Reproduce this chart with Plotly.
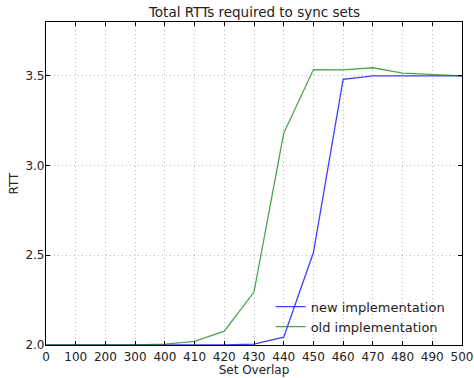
import plotly.graph_objects as go

overlap = ['0', '100', '200', '300', '400', '410', '420', '430', '440',
           '450', '460', '470', '480', '490', '500']
new_impl = [2.0, 2.0, 2.0, 2.0, 2.0, 2.0, 2.0, 2.005, 2.044, 2.515,
            3.48, 3.5, 3.5, 3.5, 3.5]
old_impl = [2.0, 2.0, 2.0, 2.0, 2.005, 2.02, 2.077, 2.295, 3.18, 3.535,
            3.533, 3.545, 3.515, 3.508, 3.5]

fig = go.Figure()
fig.add_trace(go.Scatter(x=overlap, y=new_impl, mode='lines',
                         name='new implementation',
                         line={'color': 'rgba(0,0,255,0.75)', 'width': 1.3}))
fig.add_trace(go.Scatter(x=overlap, y=old_impl, mode='lines',
                         name='old implementation',
                         line={'color': 'rgba(0,128,0,0.7)', 'width': 1.3}))

axis_style = dict(showline=True, linecolor='black', linewidth=1.2, mirror='ticks',
                  ticks='inside', ticklen=4, tickcolor='black', automargin=False,
                  showgrid=True, gridcolor='#b8b8b8', griddash='1px,3px', gridwidth=1,
                  zeroline=False, tickfont=dict(size=12, color='#222'))

fig.update_xaxes(type='category', range=[0, 14], title_text='Set Overlap',
                 title_standoff=2, title_font=dict(size=12, color='#222'), **axis_style)
fig.update_yaxes(range=[2.0, 3.8], tickvals=[2.0, 2.5, 3.0, 3.5], tickformat='.1f',
                 ticklabelstandoff=-2,
                 title_text='RTT', title_standoff=4,
                 title_font=dict(size=12, color='#222'), **axis_style)

fig.update_layout(
    width=474, height=378,
    margin=dict(l=46, r=12, t=22, b=33),
    paper_bgcolor='white', plot_bgcolor='white',
    font=dict(family='DejaVu Sans', color='#222'),
    title=dict(text='Total RTTs required to sync sets', x=0.537, xanchor='center',
               y=0.967, yanchor='middle', font=dict(size=13.5, color='#222')),
    legend=dict(x=0.54, y=0.01, xanchor='left', yanchor='bottom',
                bgcolor='rgba(0,0,0,0)', font=dict(size=13, color='#222'),
                tracegroupgap=0),
)

# drop the default 8px page margin so the figure sits at the window's corner
fig.write_html("out.html", config={'displayModeBar': False},
               post_script="document.body.style.margin='0';")
